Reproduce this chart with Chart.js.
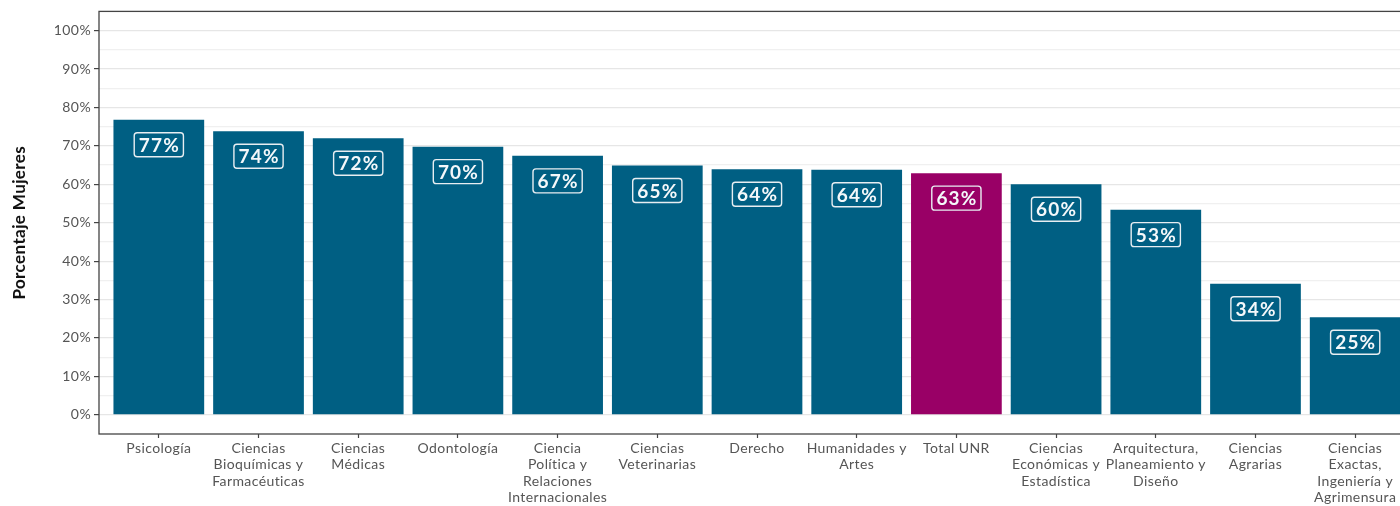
<!DOCTYPE html>
<html>
<head>
<meta charset="utf-8">
<script src="https://cdn.jsdelivr.net/npm/chart.js@4"></script>
<style>
  html, body { margin: 0; padding: 0; background: #fff; overflow: hidden; }
  #wrap { width: 1420px; height: 506px; }
</style>
</head>
<body>
<div id="wrap"><canvas id="canvas" width="1420" height="506"></canvas></div>
<script>
var canvas = document.getElementById("canvas");
var ctx = canvas.getContext("2d");

// facultades (etiquetas del eje x, en varias lineas)
const facultades = [
  ["Psicología"],
  ["Ciencias", "Bioquímicas y", "Farmacéuticas"],
  ["Ciencias", "Médicas"],
  ["Odontología"],
  ["Ciencia", "Política y", "Relaciones", "Internacionales"],
  ["Ciencias", "Veterinarias"],
  ["Derecho"],
  ["Humanidades y", "Artes"],
  ["Total UNR"],
  ["Ciencias", "Económicas y", "Estadística"],
  ["Arquitectura,", "Planeamiento y", "Diseño"],
  ["Ciencias", "Agrarias"],
  ["Ciencias", "Exactas,", "Ingeniería y", "Agrimensura"]
];
const porcentajeMujeres = [76.8, 73.8, 72.0, 69.8, 67.4, 64.9, 63.9, 63.8, 62.9, 60.0, 53.4, 34.1, 25.4];
const yTicks = [0, 5, 10, 15, 20, 25, 30, 35, 40, 45, 50, 55, 60, 65, 70, 75, 80, 85, 90, 95, 100];

const azul = "#005f83";
const magenta = "#990066";
const colores = facultades.map(f => f[0] === "Total UNR" ? magenta : azul);

const font = "Lato";

// un poco de espaciado entre letras, como en la imagen original
const espaciado = {
  id: "espaciado",
  beforeInit(chart) { chart.ctx.letterSpacing = "0.4px"; },
  beforeDraw(chart) { chart.ctx.letterSpacing = "0.4px"; }
};

// caja con el porcentaje dentro de cada barra
const etiquetas = {
  id: "etiquetas",
  afterDatasetsDraw(chart) {
    const c = chart.ctx;
    const meta = chart.getDatasetMeta(0);
    c.save();
    c.letterSpacing = "1.2px";
    c.font = "bold 19px " + font;
    c.textAlign = "center";
    c.textBaseline = "middle";
    meta.data.forEach((bar, i) => {
      const txt = Math.round(porcentajeMujeres[i]) + "%";
      const w = c.measureText(txt).width + 8;
      const h = 24;
      const cx = bar.x, cy = bar.y + 25;
      c.beginPath();
      c.roundRect(cx - w / 2, cy - h / 2, w, h, 3);
      c.fillStyle = colores[i];
      c.fill();
      c.lineWidth = 1.4;
      c.strokeStyle = "#e8eef2";
      c.stroke();
      c.fillStyle = "#f4f8fa";
      c.fillText(txt, cx + 0.6, cy + 1);
    });
    c.restore();
  }
};

// borde del panel
const borde = {
  id: "borde",
  afterDatasetsDraw(chart) {
    const a = chart.chartArea;
    const c = chart.ctx;
    c.save();
    c.strokeStyle = "#444";
    c.lineWidth = 1.3;
    c.strokeRect(a.left, a.top, a.right - a.left, a.bottom - a.top);
    c.restore();
  }
};

new Chart(ctx, {
  type: "bar",
  data: {
    datasets: [{
      data: porcentajeMujeres.map((v, i) => ({ x: i, y: v })),
      backgroundColor: colores,
      borderWidth: 0,
      categoryPercentage: 1,
      barPercentage: 0.91
    }]
  },
  options: {
    responsive: false,
    animation: false,
    layout: { padding: { top: 11, right: 5, bottom: 0, left: 0 } },
    plugins: { legend: { display: false }, tooltip: { enabled: false } },
    scales: {
      x: {
        type: "linear",
        offset: false,
        min: -0.6,
        max: 12.6,
        afterBuildTicks: s => { s.ticks = facultades.map((_, i) => ({ value: i })); },
        afterFit: s => { s.height = 72; },
        border: { display: false },
        grid: { offset: false, drawOnChartArea: false, drawTicks: true, tickLength: 4, tickColor: "#444", tickWidth: 1.2 },
        ticks: {
          autoSkip: false,
          maxRotation: 0,
          padding: 2,
          color: "#555",
          font: { family: font, size: 14, lineHeight: 1.18 },
          callback: v => facultades[v]
        }
      },
      y: {
        min: -5,
        max: 105,
        afterBuildTicks: s => { s.ticks = yTicks.map(v => ({ value: v })); },
        afterFit: s => { s.width = 99; },
        border: { display: false },
        grid: {
          color: c => c.tick && c.tick.value % 10 === 0 ? "#e6e6e6" : "#f0f0f0",
          lineWidth: 1.2,
          drawTicks: true,
          tickLength: 5,
          tickColor: c => c.tick && c.tick.value % 10 === 0 ? "#444" : "rgba(0,0,0,0)"
        },
        ticks: {
          padding: 3,
          color: "#555",
          font: { family: font, size: 14 },
          callback: v => v % 10 === 0 ? v + "%" : ""
        },
        title: {
          display: true,
          text: "Porcentaje Mujeres",
          color: "#111",
          font: { family: font, size: 17, weight: "bold" },
          padding: { top: 9, bottom: 0 }
        }
      }
    }
  },
  plugins: [espaciado, etiquetas, borde]
});
</script>
</body>
</html>
